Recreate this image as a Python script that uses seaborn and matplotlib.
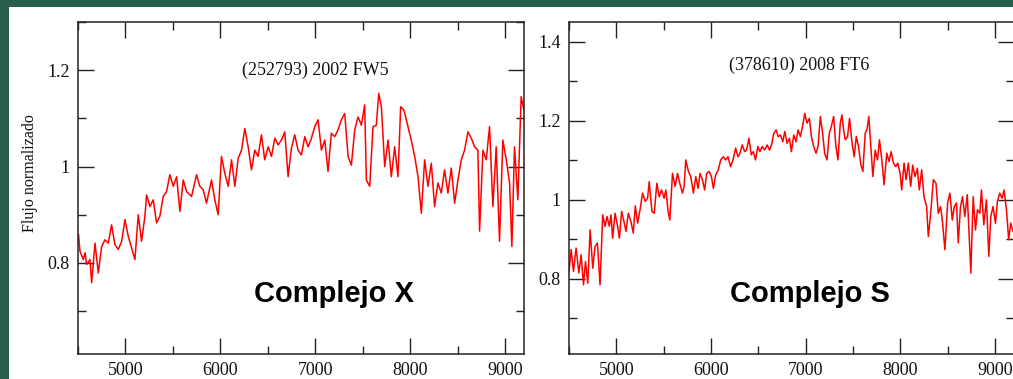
import matplotlib
matplotlib.use("Agg")
import matplotlib.pyplot as plt
import seaborn as sns
from matplotlib.ticker import MultipleLocator, FixedLocator, FixedFormatter

# Spectrum of (252793) 2002 FW5 - complejo X
wave_x = [4505, 4521, 4556, 4574, 4591, 4626, 4644, 4679, 4714, 4749, 4784, 4819, 4854,
          4889, 4925, 4960, 4995, 5030, 5065, 5100, 5135, 5170, 5205, 5223, 5258, 5293,
          5328, 5363, 5398, 5433, 5468, 5504, 5539, 5574, 5609, 5644, 5697, 5749, 5784,
          5819, 5854, 5907, 5942, 5977, 6012, 6047, 6083, 6118, 6153, 6188, 6223, 6258,
          6293, 6328, 6363, 6398, 6433, 6468, 6504, 6539, 6574, 6609, 6644, 6679, 6714,
          6749, 6784, 6819, 6854, 6890, 6925, 6960, 6995, 7030, 7065, 7100, 7135, 7170,
          7205, 7240, 7276, 7311, 7346, 7381, 7416, 7451, 7486, 7521, 7539, 7574, 7609,
          7644, 7669, 7697, 7732, 7767, 7802, 7837, 7872, 7900, 7935, 7977, 8012, 8048,
          8083, 8118, 8153, 8188, 8223, 8258, 8293, 8328, 8363, 8398, 8434, 8469, 8504,
          8539, 8574, 8609, 8644, 8679, 8714, 8732, 8767, 8802, 8837, 8872, 8907, 8942,
          8977, 9013, 9048, 9072, 9100, 9135, 9170, 9200]
flux_x = [0.860, 0.824, 0.807, 0.821, 0.797, 0.807, 0.759, 0.841, 0.779, 0.834, 0.848,
          0.841, 0.879, 0.838, 0.828, 0.845, 0.890, 0.855, 0.831, 0.807, 0.900, 0.845,
          0.897, 0.941, 0.917, 0.931, 0.883, 0.897, 0.938, 0.948, 0.983, 0.959, 0.979,
          0.907, 0.972, 0.948, 0.938, 0.983, 0.959, 0.952, 0.924, 0.972, 0.931, 0.900,
          1.021, 0.986, 0.959, 1.014, 0.959, 1.017, 1.034, 1.079, 1.041, 0.993, 1.034,
          1.021, 1.066, 1.014, 1.041, 1.021, 1.059, 1.045, 1.055, 1.072, 0.979, 1.038,
          1.066, 1.034, 1.024, 1.062, 1.041, 1.059, 1.083, 1.097, 1.034, 1.055, 0.990,
          1.069, 1.062, 1.076, 1.097, 1.110, 1.021, 1.003, 1.076, 1.103, 1.086, 1.128,
          0.972, 0.959, 1.083, 1.086, 1.152, 1.124, 1.000, 1.055, 0.979, 1.041, 0.979,
          1.124, 1.117, 1.083, 1.055, 1.021, 0.979, 0.903, 1.014, 0.959, 1.007, 0.917,
          0.966, 0.945, 0.993, 0.945, 0.997, 0.924, 0.972, 1.014, 1.034, 1.072, 1.059,
          1.041, 1.034, 0.866, 1.034, 1.014, 1.083, 0.917, 1.041, 0.845, 1.055, 1.014,
          0.966, 0.834, 1.041, 0.931, 1.145, 1.117]

# Spectrum of (378610) 2008 FT6 - complejo S
wave_s = [4500, 4523, 4547, 4575, 4604, 4628, 4653, 4674, 4698, 4723, 4751, 4775, 4800,
          4828, 4856, 4881, 4902, 4926, 4944, 4961, 4986, 5014, 5032, 5056, 5084, 5102,
          5126, 5154, 5179, 5200, 5225, 5253, 5277, 5305, 5330, 5347, 5376, 5400, 5428,
          5453, 5477, 5505, 5523, 5547, 5565, 5593, 5621, 5646, 5670, 5698, 5716, 5733,
          5761, 5786, 5814, 5839, 5863, 5884, 5909, 5933, 5954, 5979, 6004, 6025, 6049,
          6077, 6102, 6130, 6155, 6179, 6207, 6232, 6260, 6284, 6305, 6330, 6355, 6376,
          6400, 6425, 6446, 6470, 6495, 6516, 6540, 6565, 6593, 6618, 6639, 6663, 6688,
          6709, 6733, 6758, 6779, 6804, 6828, 6849, 6874, 6898, 6919, 6944, 6969, 6990,
          7014, 7039, 7060, 7084, 7109, 7130, 7155, 7179, 7200, 7225, 7249, 7270, 7295,
          7319, 7341, 7365, 7383, 7400, 7418, 7442, 7463, 7488, 7512, 7534, 7558, 7583,
          7604, 7628, 7646, 7667, 7691, 7709, 7734, 7758, 7779, 7804, 7828, 7856, 7881,
          7902, 7927, 7951, 7972, 7997, 8014, 8039, 8060, 8084, 8109, 8130, 8155, 8179,
          8200, 8225, 8249, 8277, 8295, 8320, 8348, 8376, 8400, 8425, 8446, 8470, 8499,
          8523, 8548, 8569, 8593, 8611, 8635, 8656, 8681, 8706, 8727, 8744, 8769, 8793,
          8814, 8839, 8856, 8881, 8909, 8934, 8955, 8979, 9004, 9025, 9049, 9074, 9095,
          9120, 9144, 9165, 9190]
flux_s = [0.819, 0.874, 0.819, 0.878, 0.815, 0.861, 0.785, 0.844, 0.789, 0.924, 0.827,
          0.882, 0.891, 0.785, 0.962, 0.933, 0.958, 0.933, 0.962, 0.903, 0.966, 0.933,
          0.903, 0.971, 0.941, 0.920, 0.966, 0.945, 0.916, 0.985, 0.941, 0.979, 1.017,
          0.996, 1.004, 1.046, 0.971, 0.966, 1.042, 1.008, 1.025, 1.004, 1.025, 0.971,
          0.949, 1.067, 1.034, 1.067, 1.042, 1.017, 1.034, 1.101, 1.072, 1.059, 1.017,
          1.059, 1.029, 1.067, 1.051, 1.025, 1.067, 1.072, 1.059, 1.029, 1.063, 1.076,
          1.101, 1.109, 1.101, 1.109, 1.084, 1.101, 1.131, 1.109, 1.118, 1.139, 1.122,
          1.126, 1.156, 1.114, 1.122, 1.101, 1.135, 1.122, 1.135, 1.126, 1.139, 1.126,
          1.139, 1.168, 1.177, 1.160, 1.164, 1.147, 1.173, 1.143, 1.156, 1.122, 1.164,
          1.147, 1.177, 1.160, 1.189, 1.219, 1.194, 1.206, 1.160, 1.135, 1.118, 1.135,
          1.211, 1.168, 1.118, 1.101, 1.168, 1.185, 1.211, 1.135, 1.101, 1.194, 1.215,
          1.177, 1.152, 1.160, 1.206, 1.147, 1.109, 1.160, 1.135, 1.088, 1.072, 1.168,
          1.177, 1.211, 1.126, 1.059, 1.126, 1.101, 1.152, 1.101, 1.038, 1.118, 1.097,
          1.122, 1.093, 1.084, 1.093, 1.067, 1.025, 1.093, 1.051, 1.093, 1.034, 1.088,
          1.059, 1.080, 1.025, 1.076, 1.008, 0.983, 0.907, 0.966, 1.051, 1.042, 0.966,
          0.983, 0.941, 0.874, 0.992, 1.017, 0.949, 0.983, 0.992, 0.891, 0.983, 1.008,
          0.958, 1.013, 0.907, 0.815, 1.008, 0.924, 0.975, 0.966, 1.025, 0.937, 1.000,
          0.857, 0.958, 0.983, 0.941, 0.996, 1.017, 1.004, 1.025, 0.975, 0.899, 0.941,
          0.920]

titles = ["(252793) 2002 FW5", "(378610) 2008 FT6"]
classes = ["Complejo X", "Complejo S"]
x_ticks = [5000, 6000, 7000, 8000, 9000]
y_ticks_x = [0.8, 1.0, 1.2]
y_labels_x = ["0.8", "1", "1.2"]
y_ticks_s = [0.8, 1.0, 1.2, 1.4]
y_labels_s = ["0.8", "1", "1.2", "1.4"]

sns.set_style("ticks")
plt.rcParams["font.family"] = ["Liberation Serif", "DejaVu Serif"]

fig = plt.figure(figsize=(10.13, 3.79), dpi=100, facecolor="#275e4d")
# white page area
page = plt.Rectangle((9 / 1013, 0), 1, 1 - 7 / 379, transform=fig.transFigure,
                     facecolor="white", edgecolor="none", zorder=-5)
fig.patches.append(page)

ax1 = fig.add_axes([78 / 1013, 25 / 379, 446 / 1013, 332 / 379])
ax2 = fig.add_axes([569 / 1013, 25 / 379, 445 / 1013, 332 / 379])

sns.lineplot(x=wave_x, y=flux_x, ax=ax1, color="#ff0000", lw=1.1, estimator=None)
sns.lineplot(x=wave_s, y=flux_s, ax=ax2, color="#ff0000", lw=1.1, estimator=None)

setup = [
    (ax1, (0.611, 1.30), y_ticks_x, y_labels_x, (7000, 1.20), (7200, 0.735)),
    (ax2, (0.610, 1.45), y_ticks_s, y_labels_s, (6930, 1.34), (7040, 0.762)),
]
for i, (ax, ylim, yt, yl, tpos, cpos) in enumerate(setup):
    ax.set_facecolor("white")
    ax.set_xlim(4500, 9200)
    ax.set_ylim(*ylim)
    ax.xaxis.set_major_locator(FixedLocator(x_ticks))
    ax.xaxis.set_minor_locator(MultipleLocator(500))
    ax.yaxis.set_major_locator(FixedLocator(yt))
    ax.yaxis.set_major_formatter(FixedFormatter(yl))
    ax.yaxis.set_minor_locator(MultipleLocator(0.1))
    ax.tick_params(which="both", direction="in", top=True, right=True,
                   color="#222222", width=1.0, labelsize=13, labelcolor="#111111")
    ax.tick_params(which="major", length=11.5, pad=6)
    ax.tick_params(which="minor", length=5.5)
    for s in ax.spines.values():
        s.set_color("#222222")
        s.set_linewidth(1.1)
    ax.set_xlabel("")
    ax.text(tpos[0], tpos[1], titles[i], ha="center", va="center", fontsize=13,
            color="#111111")
    ax.text(cpos[0], cpos[1], classes[i], ha="center", va="center", fontsize=21,
            fontweight="bold", family=["Liberation Sans", "DejaVu Sans"], color="black")

ax1.set_ylabel("Flujo normalizado", fontsize=11.5, color="#111111")
ax1.yaxis.set_label_coords(-0.09, 0.545)
ax2.set_ylabel("")

fig.savefig("out.png", dpi=100, facecolor=fig.get_facecolor())
